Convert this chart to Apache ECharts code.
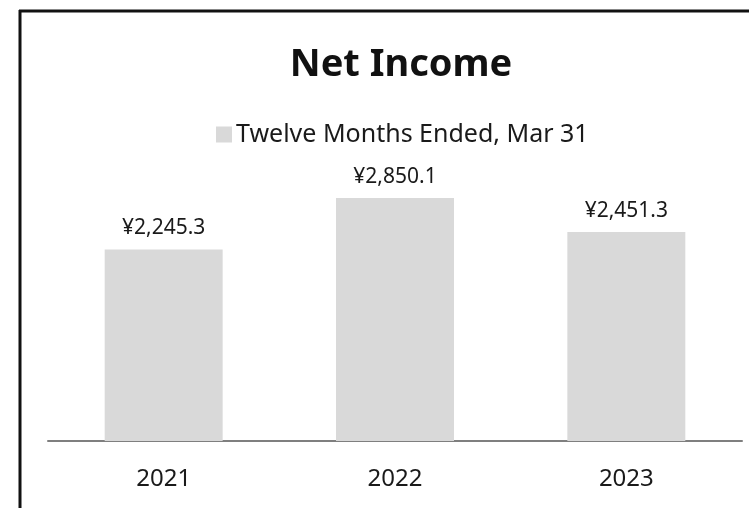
<!DOCTYPE html>
<html>
<head>
<meta charset="utf-8">
<script src="https://cdn.jsdelivr.net/npm/echarts@6/dist/echarts.min.js"></script>
<style>
  html, body { margin: 0; padding: 0; background: #fff; }
  #net_income_chart { width: 749px; height: 508px; }
</style>
</head>
<body>
<div id="net_income_chart"></div>
<script>
// 数据
var years = ['2021', '2022', '2023'];
var netIncome = [2245.3, 2850.1, 2451.3];
var seriesName = 'Twelve Months Ended, Mar 31';

var chart = echarts.init(document.getElementById('net_income_chart'));
var option = {
    animation: false,
    textStyle: { fontFamily: '"Noto Sans", sans-serif' },
    title: {
        text: 'Net Income',
        left: 396,
        top: 41,
        textAlign: 'center',
        textStyle: { fontSize: 38, fontWeight: 'bold', color: '#111', fontFamily: '"Noto Sans", sans-serif' }
    },
    legend: {
        data: [seriesName],
        left: 211,
        top: 117,
        itemWidth: 16,
        itemHeight: 16,
        itemGap: 6,
        icon: 'rect',
        textStyle: { fontSize: 25, color: '#1a1a1a', padding: [0, 0, 0, -1] }
    },
    grid: { left: 48, right: 7, top: 100, bottom: 67 },
    xAxis: {
        type: 'category',
        data: years,
        axisTick: { show: false },
        axisLine: { lineStyle: { color: '#7f7f7f', width: 2 } },
        axisLabel: { fontSize: 24, color: '#1a1a1a', margin: 26 }
    },
    yAxis: {
        type: 'value',
        min: 0,
        max: 4000,
        show: false,
        splitLine: { show: false }
    },
    series: [{
        name: seriesName,
        type: 'bar',
        data: netIncome,
        barWidth: '51%',
        itemStyle: { color: '#d9d9d9' },
        label: {
            show: true,
            position: 'top',
            distance: 11,
            fontSize: 21,
            color: '#1a1a1a',
            formatter: function (p) {
                return '¥' + p.value.toLocaleString('en-US', { minimumFractionDigits: 1 });
            }
        }
    }],
    graphic: [
        { type: 'line', shape: { x1: 20, y1: 10, x2: 20, y2: 508 }, style: { stroke: '#111', lineWidth: 3 } },
        { type: 'line', shape: { x1: 19, y1: 11, x2: 749, y2: 11 }, style: { stroke: '#111', lineWidth: 3 } }
    ]
};
chart.setOption(option);
</script>
</body>
</html>
